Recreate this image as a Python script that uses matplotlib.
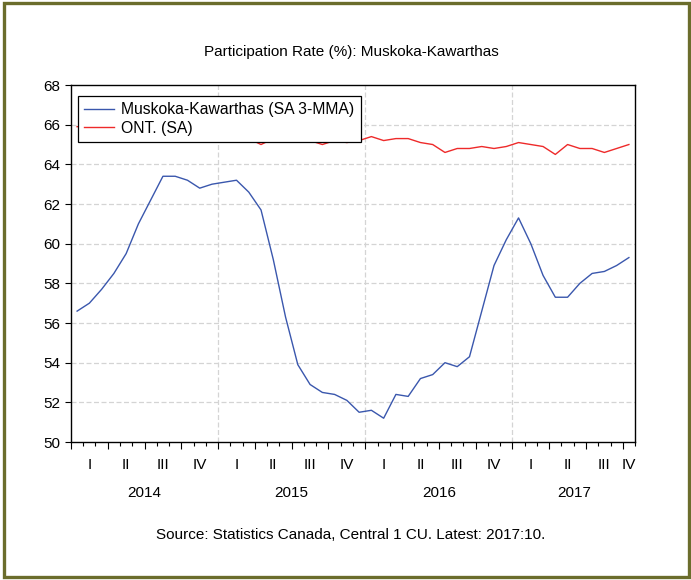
import numpy as np
import matplotlib
matplotlib.use("Agg")
import matplotlib.pyplot as plt
import matplotlib.patches as mpatches
import matplotlib.transforms as mtrans

plt.rcParams['font.family'] = ['Liberation Sans', 'DejaVu Sans']

# monthly data, Jan 2014 .. Oct 2017
years = ["2014", "2015", "2016", "2017"]
quarters = ["I", "II", "III", "IV"]

muskoka = [
    56.6, 57.0, 57.7, 58.5, 59.5, 61.0, 62.2, 63.4, 63.4, 63.2, 62.8, 63.0,  # 2014
    63.1, 63.2, 62.6, 61.7, 59.2, 56.3, 53.9, 52.9, 52.5, 52.4, 52.1, 51.5,  # 2015
    51.6, 51.2, 52.4, 52.3, 53.2, 53.4, 54.0, 53.8, 54.3, 56.6, 58.9, 60.2,  # 2016
    61.3, 60.0, 58.4, 57.3, 57.3, 58.0, 58.5, 58.6, 58.9, 59.3,              # 2017
]
ontario = [
    65.9, 65.9, 65.8, 65.8, 65.7, 65.6, 65.6, 65.5, 65.5, 65.5, 65.4, 65.4,  # 2014
    65.4, 65.3, 65.3, 65.0, 65.3, 65.3, 65.2, 65.2, 65.0, 65.2, 65.1, 65.2,  # 2015
    65.4, 65.2, 65.3, 65.3, 65.1, 65.0, 64.6, 64.8, 64.8, 64.9, 64.8, 64.9,  # 2016
    65.1, 65.0, 64.9, 64.5, 65.0, 64.8, 64.8, 64.6, 64.8, 65.0,              # 2017
]

n = len(muskoka)
x = np.arange(n) + 0.5
FS = 11

fig = plt.figure(figsize=(6.91, 5.8), dpi=100)
ax = fig.add_axes([0.1027, 0.2379, 0.9190 - 0.1027, 0.8534 - 0.2379])

ax.plot(x, muskoka, color="#3a57ad", lw=1.0, label="Muskoka-Kawarthas (SA 3-MMA)")
ax.plot(x, ontario, color="#ee2a2a", lw=1.0, label="ONT. (SA)")

ax.set_xlim(0, n)
ax.set_ylim(50, 68)
ax.set_yticks(np.arange(50, 69, 2))

# grid
for yv in np.arange(52, 68, 2):
    ax.axhline(yv, color="#d4d4d4", lw=0.9, ls=(0, (4, 2)), zorder=0)
for xv in (12, 24, 36):
    ax.axvline(xv, color="#d4d4d4", lw=0.9, ls=(0, (4, 2)), zorder=0)

# x ticks: months minor, quarters major
ax.set_xticks(np.arange(0, n + 1, 3))
ax.set_xticks(np.arange(0, n + 1, 1), minor=True)
ax.tick_params(axis="x", which="major", length=5, width=0.8, labelbottom=False)
ax.tick_params(axis="x", which="minor", length=3, width=0.8)
ax.tick_params(axis="y", length=4, width=0.8, labelsize=FS)

for s in ax.spines.values():
    s.set_linewidth(1.0)

trans = mtrans.blended_transform_factory(ax.transData, ax.transAxes)
for i in range(0, n, 3):
    q = quarters[(i // 3) % 4]
    mid = min(i + 1.5, (i + n) / 2)
    ax.text(mid, -0.065, q, transform=trans, ha="center", va="center", fontsize=FS)
year_mid = [6, 18, 30, 41]
for yr, m in zip(years, year_mid):
    ax.text(m, -0.143, yr, transform=trans, ha="center", va="center", fontsize=FS)

leg = ax.legend(loc="upper left", bbox_to_anchor=(0.0124, 0.969), fancybox=False,
                framealpha=1, edgecolor="black", fontsize=11.3, handlelength=1.9,
                borderpad=0.4, labelspacing=0.2, handletextpad=0.45,
                borderaxespad=0)
leg.get_frame().set_linewidth(0.9)

fig.text(0.508, 0.91, "Participation Rate (%): Muskoka-Kawarthas", ha="center",
         va="center", fontsize=FS)
fig.text(0.508, 0.077, "Source: Statistics Canada, Central 1 CU. Latest: 2017:10.",
         ha="center", va="center", fontsize=FS)

# olive frame around the whole chart
fig.patches.append(mpatches.Rectangle((0.0055, 0.0055), 0.9915, 0.989,
                                      transform=fig.transFigure, fill=False,
                                      edgecolor="#6b6d2c", lw=2.4))

fig.savefig("out.png", dpi=100)
